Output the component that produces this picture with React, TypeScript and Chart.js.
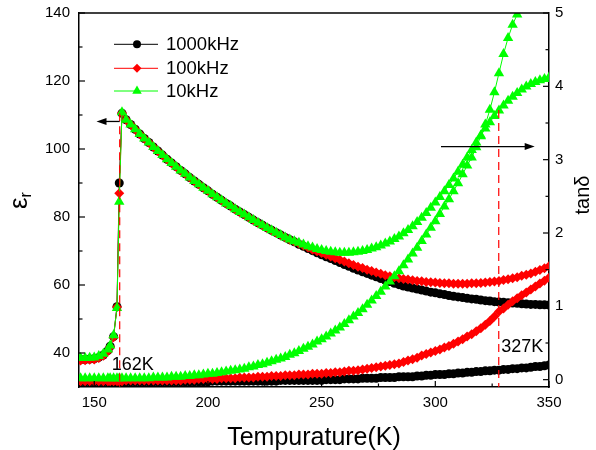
import React, { useEffect, useRef } from "react";
import { Chart, registerables } from "chart.js";
Chart.register(...registerables);

const FONT = "'Liberation Sans', Arial, Helvetica, sans-serif";

const temperatures = [144,146,148,150,152,154,156,157,158.5,160,161,162.2,164,166,168,170,172,174,176,178,180,182,184,186,188,190,192,194,196,198,200,202,204,206,208,210,212,214,216,218,220,222,224,226,228,230,232,234,236,238,240,242,244,246,248,250,252,254,256,258,260,262,264,266,268,270,272,274,276,278,280,282,284,286,288,290,292,294,296,298,300,302,304,306,308,310,312,314,316,318,320,322,324,326,328,330,332,334,336,338,340,342,344,346,348,350];

const eps1000kHz = [38.1,38.1,38.2,38.3,38.7,39.4,40.7,42.0,44.8,53.6,90.0,110.5,
  108.6,107.2,105.8,104.4,103.1,101.9,100.6,99.4,98.2,97.0,
  95.9,94.8,93.7,92.7,91.6,90.6,89.6,88.6,87.7,86.7,
  85.8,84.9,84.0,83.2,82.3,81.5,80.7,79.9,79.1,78.3,
  77.6,76.8,76.1,75.4,74.7,74.0,73.3,72.7,72.0,71.4,
  70.7,70.1,69.5,68.9,
  68.3,67.8,67.2,66.6,66.0,65.5,64.9,64.4,63.9,63.4,
  62.9,62.4,61.9,61.4,61.0,60.5,60.1,59.7,59.4,59.1,
  58.8,58.5,58.2,57.9,57.7,57.4,57.2,56.9,56.7,56.5,
  56.3,56.1,55.9,55.8,55.6,55.4,55.3,55.1,55.0,54.9,
  54.8,54.7,54.6,54.5,54.4,54.3,54.3,54.2,54.2,54.1];

const eps100kHz = [37.8,37.9,38.0,38.1,38.5,39.2,40.5,41.8,44.6,53.5,87.0,110.6,
  108.6,107.2,105.8,104.4,103.1,101.9,100.6,99.4,98.2,97.0,
  95.9,94.8,93.7,92.7,91.6,90.6,89.6,88.6,87.7,86.7,
  85.8,84.9,84.0,83.2,82.3,81.5,80.7,79.9,79.1,78.3,
  77.6,76.8,76.1,75.4,74.7,74.0,73.3,
  72.8,72.2,71.6,71.0,70.4,69.9,69.4,
  68.9,68.4,67.9,67.4,66.9,66.4,65.9,65.4,65.0,64.5,
  64.1,63.7,63.3,62.9,62.6,62.3,62.0,61.8,61.6,61.4,
  61.2,61.1,60.9,60.8,60.7,60.6,60.5,60.5,60.4,60.4,
  60.4,60.4,60.5,60.5,60.6,60.7,60.9,61.0,61.2,61.5,
  61.7,62.0,62.3,62.7,63.0,63.4,63.9,64.4,64.9,65.5];

const eps10kHz = [38.5,38.5,38.6,38.7,39.1,39.8,41.0,42.2,45.2,53.2,84.5,110.8,
  108.6,107.2,105.8,104.4,103.1,101.9,100.6,99.4,98.2,97.0,
  95.9,94.8,93.7,92.7,91.6,90.6,89.6,88.6,87.7,86.7,
  85.8,84.9,84.0,83.2,82.3,81.5,80.7,79.9,79.1,78.3,
  77.6,76.8,76.1,75.4,74.7,74.0,
  73.4,72.9,72.4,71.9,71.4,71.0,70.6,70.3,
  70.0,69.8,69.6,69.5,69.5,69.5,69.6,69.8,70.0,70.3,
  70.7,71.1,71.6,72.2,72.8,73.5,74.3,75.2,76.2,77.3,
  78.5,79.8,81.2,82.7,84.3,85.9,87.6,89.4,91.3,93.3,
  95.4,97.5,99.7,101.9,104.0,106.0,107.9,109.7,111.3,112.8,
  114.2,115.4,116.5,117.5,118.4,119.1,119.7,120.2,120.6,121.0];

const tan1000kHz = [-0.03,-0.03,-0.03,-0.03,-0.03,-0.03,-0.03,-0.03,-0.03,-0.03,-0.03,-0.03,
  -0.03,-0.03,-0.03,-0.03,-0.03,-0.03,-0.03,-0.03,-0.03,-0.03,-0.03,-0.03,-0.03,-0.03,-0.03,-0.03,-0.03,-0.03,-0.03,
  -0.02,-0.02,-0.02,-0.02,-0.02,-0.02,-0.02,-0.02,-0.02,-0.02,-0.02,-0.02,-0.02,-0.02,-0.02,
  -0.01,-0.01,-0.01,-0.01,-0.01,-0.01,-0.01,-0.01,-0.01,-0.01,
  0.0,0.0,0.0,0.0,0.01,0.01,0.01,0.01,0.02,0.02,
  0.02,0.02,0.03,0.03,0.03,0.03,0.04,0.04,0.04,0.04,
  0.05,0.05,0.06,0.06,0.07,0.07,0.07,0.08,0.08,0.09,
  0.09,0.1,0.1,0.11,0.11,0.12,0.12,0.13,0.13,0.14,
  0.14,0.15,0.15,0.16,0.16,0.17,0.18,0.18,0.19,0.2];

const tan100kHz = [-0.02,-0.02,-0.02,-0.02,-0.02,-0.02,-0.02,-0.02,-0.02,-0.02,-0.02,-0.02,
  -0.01,-0.01,-0.01,-0.01,-0.01,-0.01,-0.01,-0.01,-0.01,-0.01,-0.01,-0.01,-0.01,
  0.0,0.0,0.0,0.01,0.01,
  0.01,0.01,0.01,0.02,0.02,0.02,0.02,0.03,0.03,0.03,
  0.03,0.04,0.04,0.04,0.05,0.05,0.05,0.06,0.06,0.06,
  0.07,0.07,0.07,0.08,0.08,0.08,
  0.09,0.09,0.1,0.1,0.11,0.12,0.12,0.13,0.14,0.15,
  0.16,0.17,0.18,0.19,0.2,0.21,0.22,0.24,0.26,0.28,
  0.3,0.33,0.35,0.37,0.39,0.41,0.44,0.46,0.49,0.52,
  0.55,0.59,0.62,0.66,0.7,0.75,0.8,0.86,0.93,0.97,
  1.02,1.07,1.11,1.15,1.19,1.23,1.27,1.31,1.35,1.39];

const tan10kHz = [0.02,0.02,0.02,0.02,0.02,0.02,0.02,0.02,0.02,0.02,0.02,0.02,
  0.02,0.02,0.02,0.02,0.02,0.02,
  0.03,0.03,0.03,0.03,
  0.04,0.04,0.04,
  0.05,0.05,0.06,0.06,0.07,0.08,0.08,0.09,0.10,0.11,
  0.12,0.13,0.14,0.15,0.17,0.18,0.20,0.21,0.23,0.25,
  0.27,0.29,0.31,0.34,0.36,0.39,0.42,0.45,0.48,0.52,
  0.55,
  0.59,0.63,0.67,0.71,0.76,0.81,0.86,0.91,0.96,1.02,
  1.08,1.14,1.20,1.27,1.34,1.41,1.48,1.56,1.64,1.72,
  1.80,1.89,1.98,2.07,2.16,2.26,2.36,2.46,2.57,2.68,
  2.80,2.92,3.03,3.17,3.32,3.48,3.68,3.92,4.18,4.44,
  4.66,4.84,4.98,
  null,null,null,null,null,null,null];

const legendLabels = ["1000kHz", "100kHz", "10kHz"];
const seriesColors = ["#000000", "#FF0000", "#00FF00"];
const xMajorTicks = [150, 200, 250, 300, 350];
const xMinorTicks = [175, 225, 275, 325];
const epsMajorTicks = [40, 60, 80, 100, 120, 140];
const epsMinorTicks = [50, 70, 90, 110, 130];
const tanMajorTicks = [0, 1, 2, 3, 4, 5];
const tanMinorTicks = [0.5, 1.5, 2.5, 3.5, 4.5];
const transitionMarks = [
  { temp: 161.2, top: 110.5, label: "162K", labelTemp: 157.7, labelEps: 36.4 },
  { temp: 327.9, top: 111.5, label: "327K", labelTemp: 329, labelEps: 41.8 },
];

// target plot box (pixels)
const AREA = { left: 79, right: 549, top: 13, bottom: 387 };

function toPoints(vals: (number | null)[]) {
  const pts: { x: number; y: number }[] = [];
  vals.forEach((v, i) => {
    if (v !== null && v !== undefined) pts.push({ x: temperatures[i], y: v });
  });
  return pts;
}

function drawMarker(ctx: CanvasRenderingContext2D, style: string, x: number, y: number, r: number) {
  ctx.beginPath();
  if (style === "circle") {
    ctx.arc(x, y, r, 0, Math.PI * 2);
  } else if (style === "rectRot") {
    ctx.moveTo(x, y - r);
    ctx.lineTo(x + r, y);
    ctx.lineTo(x, y + r);
    ctx.lineTo(x - r, y);
    ctx.closePath();
  } else {
    ctx.moveTo(x, y - r);
    ctx.lineTo(x + r * Math.sin((2 * Math.PI) / 3), y + r / 2);
    ctx.lineTo(x - r * Math.sin((2 * Math.PI) / 3), y + r / 2);
    ctx.closePath();
  }
  ctx.fill();
}

function arrow(ctx: CanvasRenderingContext2D, x0: number, y0: number, x1: number, y1: number) {
  const ang = Math.atan2(y1 - y0, x1 - x0);
  const L = 10, W = 3.5;
  ctx.beginPath();
  ctx.moveTo(x0, y0);
  ctx.lineTo(x1 - L * 0.6 * Math.cos(ang), y1 - L * 0.6 * Math.sin(ang));
  ctx.stroke();
  ctx.beginPath();
  ctx.moveTo(x1, y1);
  ctx.lineTo(x1 - L * Math.cos(ang) + W * Math.sin(ang), y1 - L * Math.sin(ang) - W * Math.cos(ang));
  ctx.lineTo(x1 - L * Math.cos(ang) - W * Math.sin(ang), y1 - L * Math.sin(ang) + W * Math.cos(ang));
  ctx.closePath();
  ctx.fill();
}

const markerStyles = ["circle", "rectRot", "triangle"];
const markerSizes = [4.5, 5, 6];
const legendMarkerSizes = [4, 4.5, 5.5];

const decorPlugin = {
  id: "decor",
  afterDraw(chart: any) {
    const { ctx, chartArea: a, scales } = chart;
    const xs = scales.x, ys = scales.y, y1s = scales.y1;
    ctx.save();

    // top border
    ctx.strokeStyle = "#000";
    ctx.lineWidth = 1.5;
    ctx.beginPath();
    ctx.moveTo(a.left, a.top);
    ctx.lineTo(a.right, a.top);
    ctx.stroke();

    // inward ticks
    ctx.lineWidth = 1.2;
    const tick = (x0: number, y0: number, x1: number, y1: number) => {
      ctx.beginPath(); ctx.moveTo(x0, y0); ctx.lineTo(x1, y1); ctx.stroke();
    };
    xMajorTicks.forEach((t) => { const p = xs.getPixelForValue(t); tick(p, a.bottom, p, a.bottom - 6); });
    xMinorTicks.forEach((t) => { const p = xs.getPixelForValue(t); tick(p, a.bottom, p, a.bottom - 3.5); });
    epsMajorTicks.forEach((t) => { const p = ys.getPixelForValue(t); tick(a.left, p, a.left + 6, p); });
    epsMinorTicks.forEach((t) => { const p = ys.getPixelForValue(t); tick(a.left, p, a.left + 3.5, p); });
    tanMajorTicks.forEach((t) => { const p = y1s.getPixelForValue(t); tick(a.right, p, a.right - 6, p); });
    tanMinorTicks.forEach((t) => { const p = y1s.getPixelForValue(t); tick(a.right, p, a.right - 3.5, p); });

    // annotation texts
    ctx.fillStyle = "#000";
    ctx.font = `18px ${FONT}`;
    ctx.textAlign = "left";
    ctx.textBaseline = "middle";
    transitionMarks.forEach((m) => {
      ctx.fillText(m.label, xs.getPixelForValue(m.labelTemp), ys.getPixelForValue(m.labelEps));
    });

    // dashed transition lines
    ctx.strokeStyle = "#FF0000";
    ctx.lineWidth = 1.2;
    ctx.setLineDash([8, 5]);
    transitionMarks.forEach((m) => {
      const px = xs.getPixelForValue(m.temp);
      ctx.beginPath();
      ctx.moveTo(px, ys.getPixelForValue(m.top));
      ctx.lineTo(px, a.bottom);
      ctx.stroke();
    });
    ctx.setLineDash([]);

    // arrows
    ctx.strokeStyle = "#000";
    ctx.fillStyle = "#000";
    ctx.lineWidth = 1.3;
    arrow(ctx, xs.getPixelForValue(161.2), ys.getPixelForValue(108.1), xs.getPixelForValue(151), ys.getPixelForValue(108.1));
    arrow(ctx, xs.getPixelForValue(302.5), ys.getPixelForValue(100.7), xs.getPixelForValue(343.7), ys.getPixelForValue(100.7));

    // legend
    const rowsY = [44.3, 68.3, 91];
    legendLabels.forEach((lab, i) => {
      const yy = rowsY[i];
      ctx.strokeStyle = seriesColors[i];
      ctx.fillStyle = seriesColors[i];
      ctx.lineWidth = 1;
      ctx.beginPath(); ctx.moveTo(114, yy); ctx.lineTo(158, yy); ctx.stroke();
      drawMarker(ctx, markerStyles[i], 137, yy, legendMarkerSizes[i]);
      ctx.fillStyle = "#000";
      ctx.font = `18.5px ${FONT}`;
      ctx.textAlign = "left";
      ctx.textBaseline = "middle";
      ctx.fillText(lab, 166, yy + 1);
    });

    // axis titles
    ctx.fillStyle = "#000";
    ctx.font = `25px ${FONT}`;
    ctx.textAlign = "center";
    ctx.textBaseline = "alphabetic";
    ctx.fillText("Tempurature(K)", (a.left + a.right) / 2, 445);

    // left title: epsilon with subscript r
    ctx.save();
    ctx.translate(27, (a.top + a.bottom) / 2);
    ctx.rotate(-Math.PI / 2);
    ctx.textAlign = "left";
    ctx.textBaseline = "alphabetic";
    ctx.font = `26px ${FONT}`;
    const wE = ctx.measureText("ε").width;
    ctx.fillText("ε", -9, 0);
    ctx.font = `16px ${FONT}`;
    ctx.fillText("r", -9 + wE, 4);
    ctx.restore();

    // right title
    ctx.save();
    ctx.translate(583, (a.top + a.bottom) / 2 - 5);
    ctx.rotate(-Math.PI / 2);
    ctx.textAlign = "center";
    ctx.textBaseline = "middle";
    ctx.font = `20px ${FONT}`;
    ctx.fillText("tanδ", 0, 0);
    ctx.restore();

    ctx.restore();
  },
};

function makeDataset(label: string, vals: (number | null)[], i: number, axis: string, order: number) {
  return {
    label,
    data: toPoints(vals),
    showLine: true,
    borderColor: seriesColors[i],
    backgroundColor: seriesColors[i],
    borderWidth: 1,
    pointStyle: markerStyles[i],
    pointRadius: markerSizes[i],
    pointBorderWidth: 0,
    pointBackgroundColor: seriesColors[i],
    pointHoverRadius: markerSizes[i],
    yAxisID: axis,
    order,
    clip: 0,
    tension: 0,
  };
}

export default function App() {
  const ref = useRef<HTMLCanvasElement | null>(null);
  useEffect(() => {
    document.body.style.margin = "0";
    if (!ref.current) return;
    Chart.defaults.font.family = FONT;
    const tickFont = { family: FONT, size: 15 };
    const fit = { left: AREA.left, right: 596 - AREA.right, bottom: 450 - AREA.bottom, top: AREA.top };
    const zeroPad = (s: any) => {
      s.paddingTop = 0; s.paddingBottom = 0; s.paddingLeft = 0; s.paddingRight = 0;
    };
    const chart = new Chart(ref.current, {
      type: "scatter",
      data: {
        datasets: [
          makeDataset("1000kHz", eps1000kHz, 0, "y", 6),
          makeDataset("1000kHz tan", tan1000kHz, 0, "y1", 5),
          makeDataset("100kHz", eps100kHz, 1, "y", 4),
          makeDataset("100kHz tan", tan100kHz, 1, "y1", 3),
          makeDataset("10kHz", eps10kHz, 2, "y", 2),
          makeDataset("10kHz tan", tan10kHz, 2, "y1", 1),
        ] as any,
      },
      options: {
        responsive: false,
        animation: false,
        devicePixelRatio: 1,
        layout: { padding: { top: AREA.top, left: 0, right: 0, bottom: 0 } },
        plugins: { legend: { display: false }, tooltip: { enabled: false } },
        scales: {
          x: {
            type: "linear",
            position: "bottom",
            min: 143.3,
            max: 350,
            grid: { display: false, drawTicks: false },
            border: { display: true, color: "#000", width: 1.5 },
            ticks: { stepSize: 50, includeBounds: false, font: tickFont, color: "#000", padding: 7, maxRotation: 0 },
            afterFit: (s: any) => { s.height = fit.bottom; zeroPad(s); },
          },
          y: {
            type: "linear",
            position: "left",
            min: 30,
            max: 140,
            grid: { display: false, drawTicks: false },
            border: { display: true, color: "#000", width: 1.5 },
            ticks: { stepSize: 20, includeBounds: false, font: tickFont, color: "#000", padding: 9 },
            afterFit: (s: any) => { s.width = fit.left; zeroPad(s); },
          },
          y1: {
            type: "linear",
            position: "right",
            min: -0.1,
            max: 5,
            grid: { display: false, drawTicks: false },
            border: { display: true, color: "#000", width: 1.5 },
            ticks: { stepSize: 1, includeBounds: false, font: tickFont, color: "#000", padding: 6 },
            afterFit: (s: any) => { s.width = fit.right; zeroPad(s); },
          },
        },
      } as any,
      plugins: [decorPlugin],
    });
    // nudge scale sizes so the plot box lands on the target rectangle
    for (let k = 0; k < 3; k++) {
      const ca = chart.chartArea;
      const db = ca.bottom - AREA.bottom;
      const dl = AREA.left - ca.left;
      const dr = ca.right - AREA.right;
      if (Math.abs(db) < 0.5 && Math.abs(dl) < 0.5 && Math.abs(dr) < 0.5) break;
      fit.bottom = Math.max(0, fit.bottom + db);
      fit.left = Math.max(0, fit.left + dl);
      fit.right = Math.max(0, fit.right + dr);
      chart.update();
    }
    return () => chart.destroy();
  }, []);
  return (
    <div style={{ width: 596, height: 450, background: "#fff" }}>
      <canvas ref={ref} width={596} height={450} />
    </div>
  );
}
